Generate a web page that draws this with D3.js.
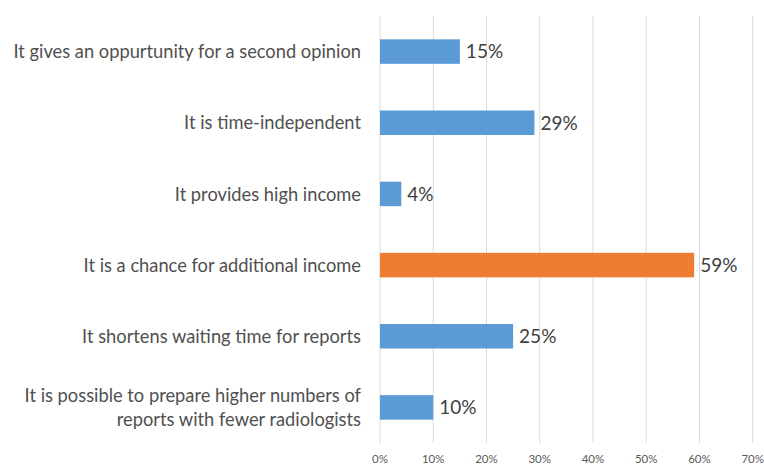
<!DOCTYPE html>
<html>
<head>
<meta charset="utf-8">
<script src="https://cdn.jsdelivr.net/npm/d3@7"></script>
<style>
  body { margin: 0; background: #fff; }
  svg { display: block; font-family: Lato, "Liberation Sans", sans-serif; }
</style>
</head>
<body>
<div id="chart"></div>
<script>
// answers, top to bottom
const categories = [
  ["It gives an oppurtunity for a second opinion"],
  ["It is time-independent"],
  ["It provides high income"],
  ["It is a chance for additional income"],
  ["It shortens waiting time for reports"],
  ["It is possible to prepare higher numbers of", "reports with fewer radiologists"]
];
const values = [15, 29, 4, 59, 25, 10];
const highlight = [false, false, false, true, false, false];
const ticks = [0, 10, 20, 30, 40, 50, 60, 70];

const width = 764, height = 465;
const plotLeft = 380, plotRight = 752.7, plotTop = 16, plotBottom = 443;

const svg = d3.select('#chart')
  .append('svg')
  .attr('width', width)
  .attr('height', height);

const x = d3.scaleLinear().domain([0, 70]).range([plotLeft, plotRight]);
const y = d3.scaleBand().domain(d3.range(values.length)).range([plotTop, plotBottom]);
const barH = 24.5;

// gridlines
svg.append('g')
  .selectAll('line')
  .data(ticks)
  .join('line')
  .attr('x1', d => x(d))
  .attr('x2', d => x(d))
  .attr('y1', plotTop)
  .attr('y2', plotBottom)
  .style('stroke', '#d9d9d9')
  .style('stroke-width', 1);

// tick labels
svg.append('g')
  .selectAll('text')
  .data(ticks)
  .join('text')
  .attr('x', d => x(d))
  .attr('y', 463)
  .attr('text-anchor', 'middle')
  .style('font-size', '11.5px')
  .style('fill', '#595959')
  .text(d => d + '%');

// bars
svg.append('g')
  .selectAll('rect')
  .data(values)
  .join('rect')
  .attr('x', x(0))
  .attr('y', (d, i) => y(i) + y.bandwidth() / 2 - barH / 2)
  .attr('width', d => x(d) - x(0))
  .attr('height', barH)
  .style('fill', (d, i) => highlight[i] ? '#ed7d31' : '#5b9bd5');

// value labels
svg.append('g')
  .selectAll('text')
  .data(values)
  .join('text')
  .attr('x', d => x(d) + 6)
  .attr('y', (d, i) => y(i) + y.bandwidth() / 2)
  .attr('dy', '0.36em')
  .style('font-size', '19px')
  .style('fill', '#404040')
  .text(d => d + '%');

// category labels
const cat = svg.append('g')
  .selectAll('text')
  .data(categories)
  .join('text')
  .attr('text-anchor', 'end')
  .attr('y', (d, i) => y(i) + y.bandwidth() / 2)
  .style('font-size', '18.3px')
  .style('fill', '#505050');

cat.selectAll('tspan')
  .data(d => d.map((t, j) => ({ t, j, n: d.length })))
  .join('tspan')
  .attr('x', 361)
  .attr('dy', d => d.j === 0 ? (0.36 - (d.n - 1) * 0.64) + 'em' : '1.28em')
  .text(d => d.t);
</script>
</body>
</html>
